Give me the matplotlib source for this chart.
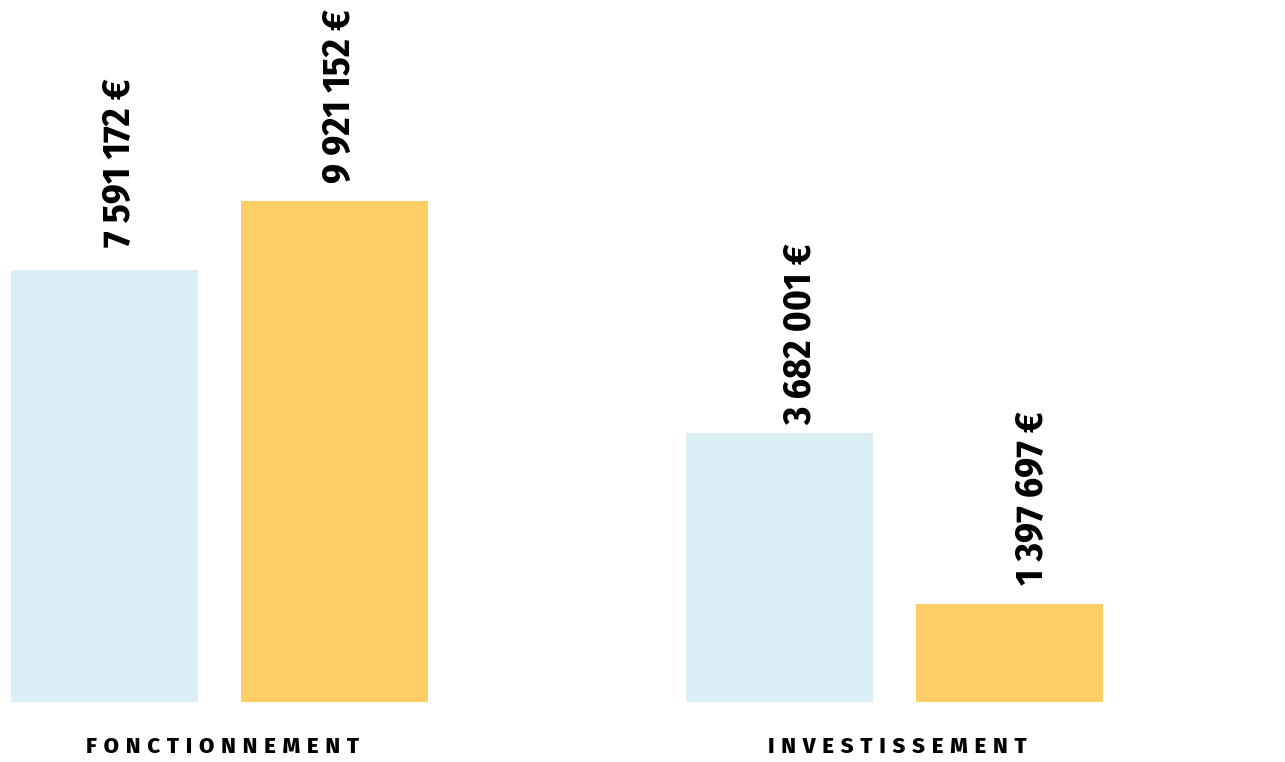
import matplotlib
matplotlib.use("Agg")
import matplotlib.pyplot as plt
import numpy as np

groups = ["FONCTIONNEMENT", "INVESTISSEMENT"]
amounts_a = [7591172, 3682001]   # light blue bars
amounts_b = [9921152, 1397697]   # yellow bars
# bar heights as drawn in the picture (millions, the chart is not to scale)
heights_a = [8.55, 5.33]
heights_b = [9.92, 1.94]

blue = "#daeff5"
yellow = "#fdcd66"

# label anchor offsets in pixels (right edge / baseline of the rotated text)
lab_off_a = [(25, 23), (32, 8)]
lab_off_b = [(15, 18), (34, 19)]


def euro(v):
    return f"{v:,}".replace(",", " ") + " €"


W, H = 1285, 762
fig = plt.figure(figsize=(W / 100, H / 100), dpi=100)
ax = fig.add_axes([0, 60 / H, 1, 702 / H])

x = np.arange(len(groups))
w = 187 / 674.5
off = 115 / 674.5
ax.bar(x - off, heights_a, width=w, color=blue)
ax.bar(x + off, heights_b, width=w, color=yellow)

ax.set_xlim(-219.5 / 674.5, -219.5 / 674.5 + W / 674.5)
ax.set_ylim(0, 9.92 * 702 / 501)
ax.axis("off")

lab_font = dict(family=["Fira Sans Condensed", "DejaVu Sans"], fontsize=28,
                fontweight="bold", rotation=90, rotation_mode="anchor",
                ha="left", va="baseline")
for xs, hs, vs, offs in [(x - off, heights_a, amounts_a, lab_off_a),
                         (x + off, heights_b, amounts_b, lab_off_b)]:
    for xi, h, v, o in zip(xs, hs, vs, offs):
        ax.annotate(euro(v), (xi, h), xytext=o, textcoords="offset pixels", **lab_font)

# letter-spaced group names
for xi, g in zip(x, groups):
    ax.annotate("\u2009\u200a".join(g), (xi, 0), xytext=(3, -45), textcoords="offset pixels",
                ha="center", va="center", fontsize=16, fontweight="heavy",
                family=["Fira Sans", "DejaVu Sans"])

fig.savefig("out.png", dpi=100)
